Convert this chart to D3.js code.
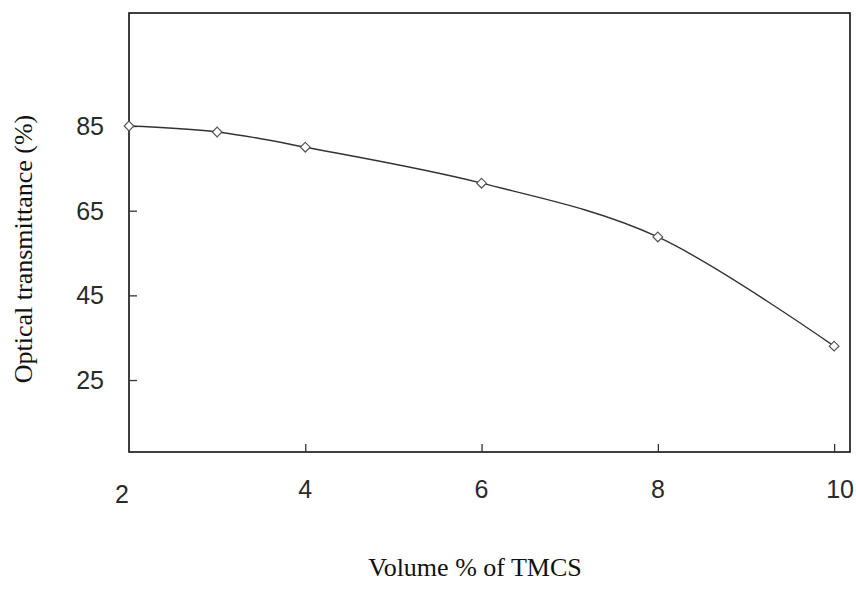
<!DOCTYPE html>
<html>
<head>
<meta charset="utf-8">
<script src="https://cdn.jsdelivr.net/npm/d3@7"></script>
<style>
  body { margin: 0; background: #fff; }
  .tick-label { font-family: "Liberation Sans", Arial, sans-serif; font-size: 25px; fill: #2a2a2a; }
  .title { font-family: "Liberation Serif", "Times New Roman", serif; fill: #111; font-size: 26px; }
</style>
</head>
<body>
<div id="chart"></div>
<script>
(function () {

  // data
  const volume = [2, 3, 4, 6, 8, 10]
  const transmittance = [85.0, 83.6, 80.0, 71.5, 58.8, 33.0]
  const xTicks = [2, 4, 6, 8, 10]
  const yTicks = [25, 45, 65, 85]

  const margin = { top: 13, right: 6, bottom: 145, left: 129 }
  const width = 856 - margin.left - margin.right
  const height = 597 - margin.top - margin.bottom

  const svg = d3.select("#chart").append("svg")
      .attr("width", 856)
      .attr("height", 597)
      .append("g")
      .attr("transform", "translate(" + margin.left + "," + margin.top + ")")

  const xPositionScale = d3.scaleLinear()
    .domain([2, 10.18])
    .range([0, width])

  const yPositionScale = d3.scaleLinear()
    .domain([8, 111.7])
    .range([height, 0])

  // frame
  svg.append("rect")
    .attr("x", 0)
    .attr("y", 0)
    .attr("width", width)
    .attr("height", height)
    .attr("fill", "none")
    .attr("stroke", "#111")
    .attr("stroke-width", 1.6)

  // inside ticks, labels drawn separately
  const yAxis = d3.axisRight(yPositionScale)
    .tickValues(yTicks)
    .tickSize(8)
    .tickFormat("")
  svg.append("g")
    .attr("class", "axis y-axis")
    .call(yAxis)
    .call(g => g.select(".domain").remove())
    .selectAll("line").attr("stroke", "#333").attr("stroke-width", 1.3)

  const xAxis = d3.axisTop(xPositionScale)
    .tickValues(xTicks.slice(1))
    .tickSize(8)
    .tickFormat("")
  svg.append("g")
    .attr("class", "axis x-axis")
    .attr("transform", "translate(0," + height + ")")
    .call(xAxis)
    .call(g => g.select(".domain").remove())
    .selectAll("line").attr("stroke", "#333").attr("stroke-width", 1.3)

  svg.selectAll(".y-label")
    .data(yTicks)
    .join("text")
    .attr("class", "tick-label")
    .attr("x", -25)
    .attr("y", d => yPositionScale(d))
    .attr("dy", "0.36em")
    .attr("text-anchor", "end")
    .text(d => d)

  svg.selectAll(".x-label")
    .data(xTicks)
    .join("text")
    .attr("class", "tick-label")
    .attr("x", d => xPositionScale(d) + (d === 2 ? -7 : d === 10 ? 6 : 0))
    .attr("y", d => height + (d === 2 ? 51 : 46))
    .attr("text-anchor", "middle")
    .text(d => d)

  // smoothed line like the spreadsheet one
  const line = d3.line()
    .x((d, i) => xPositionScale(volume[i]))
    .y(d => yPositionScale(d))
    .curve(d3.curveCardinal.tension(0))

  svg.append("path")
    .datum(transmittance)
    .attr("d", line)
    .attr("fill", "none")
    .attr("stroke", "#333")
    .attr("stroke-width", 1.4)

  const diamond = d3.symbol().type(d3.symbolDiamond2).size(60)

  svg.selectAll(".marker")
    .data(transmittance)
    .join("path")
    .attr("class", "marker")
    .attr("d", diamond)
    .attr("transform", (d, i) => "translate(" + xPositionScale(volume[i]) + "," + yPositionScale(d) + ")")
    .attr("fill", "#fff")
    .attr("stroke", "#555")
    .attr("stroke-width", 1.2)

  svg.append("text")
    .attr("class", "title")
    .attr("transform", "translate(" + (23 - margin.left) + "," + (249 - margin.top) + ") rotate(-90)")
    .attr("text-anchor", "middle")
    .attr("dy", "0.35em")
    .text("Optical transmittance (%)")

  svg.append("text")
    .attr("class", "title")
    .attr("x", 475 - margin.left)
    .attr("y", 567 - margin.top)
    .attr("dy", "0.35em")
    .attr("text-anchor", "middle")
    .text("Volume % of TMCS")

})();
</script>
</body>
</html>
